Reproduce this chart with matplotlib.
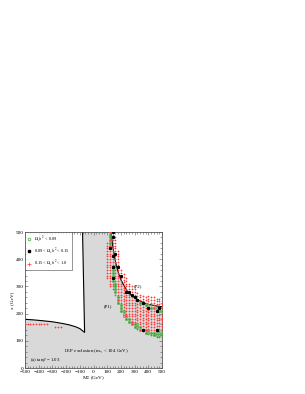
import numpy as np
import matplotlib
matplotlib.use('Agg')
import matplotlib.pyplot as plt
from matplotlib.ticker import MultipleLocator

plt.rcParams['font.family'] = ['Liberation Serif', 'DejaVu Serif']
plt.rcParams['mathtext.fontset'] = 'stix'

# LEP exclusion boundaries
left_x = [-500, -440, -376, -300, -230, -180, -133, -100, -65, -80]
left_y = [179, 177, 174, 170, 164, 159, 152, 145, 131, 500]
right_x = [128, 135, 140, 148, 157, 170, 185, 200, 220, 254, 290, 330, 364, 400, 450, 500]
right_y = [500, 470, 450, 425, 400, 370, 345, 325, 305, 276, 262, 249, 240, 234, 229, 225]

# red points: column x, lowest y, highest y (scan step 10 GeV in y)
red_col_x = [100, 120, 140, 160, 180, 200, 220, 240, 260, 280, 300, 320, 340, 360, 380, 400, 420, 440, 460, 480, 500]
red_col_lo = [330, 300, 290, 270, 240, 210, 195, 180, 170, 160, 150, 145, 140, 135, 130, 125, 120, 120, 115, 115, 115]
red_col_hi = [460, 500, 500, 480, 430, 360, 345, 330, 310, 300, 290, 280, 275, 270, 265, 265, 260, 260, 260, 255, 250]
red_left_x = [-500, -480, -460, -440, -420, -400, -380, -360, -340, -280, -260, -240]
red_left_y = [160, 160, 160, 160, 160, 160, 160, 160, 160, 150, 150, 150]

# green points: column x, lowest y, highest y
green_col_x = [120, 140, 160, 180, 200, 220, 240, 260, 280, 300, 320, 340, 360, 380, 400, 420, 440, 460, 480, 500]
green_col_lo = [450, 320, 280, 240, 210, 190, 180, 170, 160, 150, 150, 140, 140, 130, 130, 130, 120, 120, 120, 120]
green_col_hi = [500, 370, 310, 260, 230, 210, 190, 180, 170, 160, 160, 150, 140, 140, 140, 130, 130, 130, 130, 130]
green_top_x = [300, 320, 340, 360, 380, 400, 420, 440, 460, 480, 500]
green_top_y = [260, 250, 240, 240, 230, 230, 220, 220, 220, 210, 210]

# black points
black_x = [140, 140, 120, 140, 140, 140, 160, 180, 200, 240, 260, 280, 300, 320, 360, 400, 460, 480, 360, 460]
black_y = [500, 480, 440, 410, 370, 330, 420, 370, 340, 280, 280, 270, 260, 250, 240, 220, 210, 220, 140, 140]

xmin, xmax = -500, 500
ymin, ymax = 0, 500


def expand(cx, lo, hi):
    xs, ys = [], []
    for x, a, b in zip(cx, lo, hi):
        for y in np.arange(a, b + 1, 10):
            xs.append(x)
            ys.append(y)
    return xs, ys


fig = plt.figure(figsize=(3.05, 3.94), dpi=100)
ax = fig.add_axes([25 / 305, 26 / 394, 137 / 305, 136 / 394])
ax.set_facecolor('#d9d9d9')

# white allowed regions
ax.fill([xmin] + left_x + [left_x[-1]], [ymax] + left_y + [ymax], color='white', lw=0, zorder=1)
ax.fill(right_x + [xmax], right_y + [ymax], color='white', lw=0, zorder=1)
ax.plot(left_x, left_y, color='black', lw=0.8, zorder=2)
ax.plot(right_x, right_y, color='black', lw=0.8, zorder=2)

rx, ry = expand(red_col_x, red_col_lo, red_col_hi)
rx += red_left_x
ry += red_left_y
gx, gy = expand(green_col_x, green_col_lo, green_col_hi)
gx += green_top_x
gy += green_top_y

ax.plot(rx, ry, '+', color='#ff3b3b', ms=2.0, mew=0.5, zorder=3,
        label=r'0.15 < $\Omega_\chi h^2$ < 1.0')
ax.plot(gx, gy, 'o', color='#55b255', mfc='none', ms=1.6, mew=0.6, zorder=4,
        label=r'$\Omega_\chi h^2$ < 0.09')
ax.plot(black_x, black_y, 's', color='black', ms=1.25, zorder=5,
        label=r'0.09 < $\Omega_\chi h^2$ < 0.15')

h, l = ax.get_legend_handles_labels()
order = [1, 2, 0]
leg = ax.legend([h[i] for i in order], [l[i] for i in order], loc='upper left',
                fontsize=3.2, frameon=True, fancybox=False, borderaxespad=0.1,
                handlelength=0.8, handletextpad=0.6, labelspacing=0.75,
                borderpad=0.45, markerscale=1.2)
leg.get_frame().set_edgecolor('#444444')
leg.get_frame().set_linewidth(0.5)
leg.set_zorder(6)

ax.text(322, 301, '(P2)', fontsize=3.5, ha='center', va='center', zorder=6)
ax.text(104, 228, '(P1)', fontsize=3.5, ha='center', va='center', zorder=6)
ax.text(23, 62, r'LEP exclusion (m$_{\chi_1}$ < 104 GeV)', fontsize=3.5,
        ha='center', va='center', zorder=6)
ax.text(-460, 29, r'(a) tan$\beta$ = 1.03', fontsize=3.5, ha='left',
        va='center', zorder=6)

ax.set_xlim(xmin, xmax)
ax.set_ylim(ymin, ymax)
ax.xaxis.set_major_locator(MultipleLocator(100))
ax.xaxis.set_minor_locator(MultipleLocator(20))
ax.yaxis.set_major_locator(MultipleLocator(100))
ax.yaxis.set_minor_locator(MultipleLocator(20))
ax.tick_params(which='both', direction='in', top=True, right=True,
               labelsize=3.8, width=0.4, color='#555555', pad=1.2)
ax.tick_params(which='major', length=2.2)
ax.tick_params(which='minor', length=1.2)
for s in ax.spines.values():
    s.set_linewidth(0.6)
    s.set_color('#555555')
ax.set_xlabel(r'M$_2$ (GeV)', fontsize=3.8, labelpad=0.5)
ax.set_ylabel('x (GeV)', fontsize=3.8, labelpad=1)

fig.savefig('out.png', dpi=100)
